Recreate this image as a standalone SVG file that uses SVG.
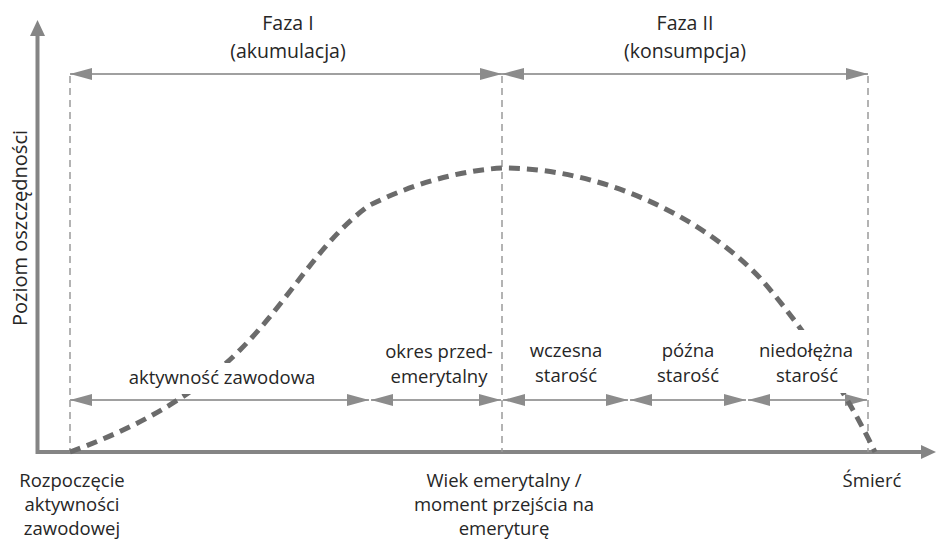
<svg xmlns="http://www.w3.org/2000/svg" width="936" height="540" viewBox="0 0 936 540">
  <defs>
    <marker id="ah" markerUnits="userSpaceOnUse" markerWidth="22" markerHeight="12" refX="22" refY="6" orient="auto-start-reverse">
      <path d="M0,0 L22,6 L0,12 z" fill="#8c8c8c"/>
    </marker>
  </defs>
  <style>
    text { font-family: "Open Sans", "Liberation Sans", sans-serif; fill: #262626; text-anchor: middle; }
    .lbl { font-size: 18.5px; }
    .ttl { font-size: 19.5px; }
    .ylbl { font-size: 20px; }
    .guide { stroke: #9a9a9a; stroke-width: 1.5; stroke-dasharray: 7 5; fill: none; }
    .span { stroke: #a0a0a0; stroke-width: 2; fill: none; marker-start: url(#ah); marker-end: url(#ah); }
    .axis { stroke: #858585; stroke-width: 4; fill: none; }
    .curve { stroke: #6b6b6b; stroke-width: 5; stroke-dasharray: 11 7; fill: none; }
  </style>
  <rect width="936" height="540" fill="#ffffff"/>

  <g id="axes">
    <path class="axis" d="M37.5,36 V452 H922"/>
    <polygon points="37.5,20 30,36 45,36" fill="#858585"/>
    <polygon points="936,452 921,445 921,459" fill="#858585"/>
    <text class="ylbl" transform="translate(27,228) rotate(-90)">Poziom oszczędności</text>
  </g>

  <g id="guides">
    <line class="guide" x1="70" y1="76" x2="70" y2="452"/>
    <line class="guide" x1="502" y1="76" x2="502" y2="452"/>
    <line class="guide" x1="868" y1="76" x2="868" y2="452"/>
  </g>

  <g id="connectors">
    <line class="span" x1="70" y1="74" x2="502" y2="74"/>
    <line class="span" x1="502" y1="74" x2="868" y2="74"/>
    <line class="span" x1="70" y1="400" x2="369" y2="400"/>
    <line class="span" x1="371" y1="400" x2="501" y2="400"/>
    <line class="span" x1="503" y1="400" x2="628" y2="400"/>
    <line class="span" x1="630" y1="400" x2="746" y2="400"/>
    <line class="span" x1="748" y1="400" x2="867" y2="400"/>
  </g>

  <g id="savings-curve">
    <path class="curve" d="M70,452 C130,430 190,400 240,350 C290,300 320,240 370,205 C410,185 460,170 503,168 C600,168 700,215 760,278 C810,335 850,400 875,452"/>
  </g>

  <g id="phase1">
    <text class="ttl" x="288" y="30">Faza I</text>
    <text class="ttl" x="288" y="58">(akumulacja)</text>
  </g>
  <g id="phase2">
    <text class="ttl" x="685" y="30">Faza II</text>
    <text class="ttl" x="685" y="58">(konsumpcja)</text>
  </g>

  <g id="aktywnosc-zawodowa">
    <rect x="124" y="363" width="198" height="31" fill="#ffffff"/>
    <text class="lbl" x="222" y="384">aktywność zawodowa</text>
  </g>
  <g id="okres-przedemerytalny">
    <text class="lbl" x="439" y="358">okres przed-</text>
    <text class="lbl" x="439" y="383">emerytalny</text>
  </g>
  <g id="wczesna-starosc">
    <text class="lbl" x="566" y="357">wczesna</text>
    <text class="lbl" x="566" y="382">starość</text>
  </g>
  <g id="pozna-starosc">
    <text class="lbl" x="688" y="357">późna</text>
    <text class="lbl" x="688" y="382">starość</text>
  </g>
  <g id="niedolezna-starosc">
    <rect x="752" y="330" width="110" height="63" fill="#ffffff"/>
    <text class="lbl" x="806" y="357">niedołężna</text>
    <text class="lbl" x="807" y="382">starość</text>
  </g>

  <g id="start">
    <text class="lbl" x="72" y="487">Rozpoczęcie</text>
    <text class="lbl" x="72" y="511">aktywności</text>
    <text class="lbl" x="72" y="535">zawodowej</text>
  </g>
  <g id="retirement">
    <text class="lbl" x="504" y="487">Wiek emerytalny /</text>
    <text class="lbl" x="504" y="511">moment przejścia na</text>
    <text class="lbl" x="504" y="535">emeryturę</text>
  </g>
  <g id="death">
    <text class="lbl" x="872" y="487">Śmierć</text>
  </g>
</svg>
